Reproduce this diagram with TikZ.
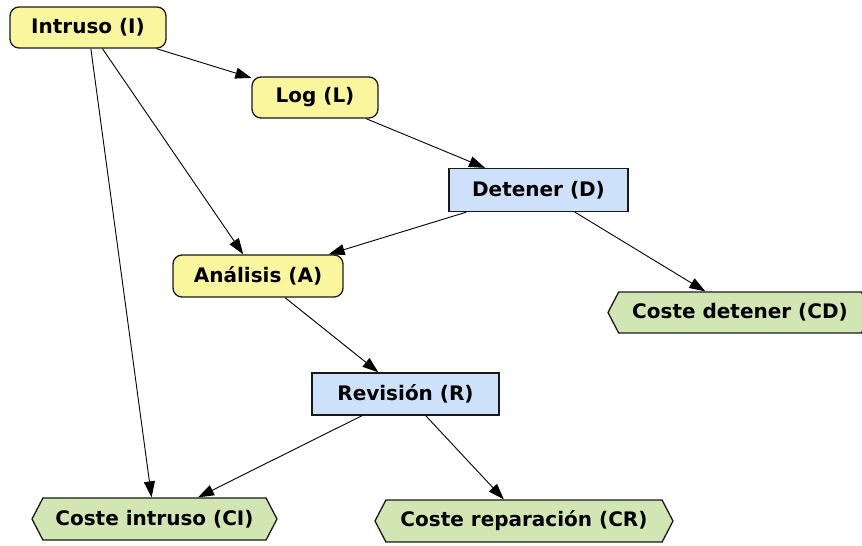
\documentclass[tikz,border=0pt]{standalone}
\usepackage{fontspec}
\setmainfont{DejaVu Sans}
\usetikzlibrary{shapes.symbols,arrows.meta}
\definecolor{chancefill}{RGB}{250,246,158}
\definecolor{decisionfill}{RGB}{206,225,250}
\definecolor{utilityfill}{RGB}{210,230,180}

\begin{document}
\begin{tikzpicture}[x=1pt,y=-1pt,>={Triangle[length=16pt,width=11pt]}]
     \useasboundingbox (0,0) rectangle (862,546);
     \tikzstyle{every node} = [draw=black!90,line width=1.3pt,inner sep=0pt,minimum height=41pt,font=\fontsize{20}{22}\selectfont\bfseries]
     \tikzstyle{chance} = [rectangle,rounded corners=9pt,fill=chancefill]
     \tikzstyle{decision} = [rectangle,fill=decisionfill]
     \tikzstyle{utility} = [signal,signal to=west and east,signal pointer angle=125,fill=utilityfill]
     \node[chance,minimum width=156pt] (I) at (88,27.5) {Intruso (I)};
     \node[chance,minimum width=126pt] (L) at (315,97.5) {Log (L)};
     \node[decision,minimum width=179pt,minimum height=43pt] (D) at (538.5,190) {Detener (D)};
     \node[chance,minimum width=170pt,minimum height=42pt] (A) at (258,276) {Análisis (A)};
     \node[decision,minimum width=187pt,minimum height=42pt] (R) at (405.5,394) {Revisión (R)};
     \node[utility,minimum width=264pt] (CD) at (740,312.5) {Coste detener (CD)};
     \node[utility,minimum width=245pt,minimum height=42pt] (CI) at (154.5,519) {Coste intruso (CI)};
     \node[utility,minimum width=298pt,minimum height=42pt] (CR) at (524,521) {Coste reparación (CR)};
     \draw [->,line width=0.9pt] (I) to (L);
     \draw [->,line width=0.9pt] (I) to (A);
     \draw [->,line width=0.9pt] (I) to (CI);
     \draw [->,line width=0.9pt] (L) to (D);
     \draw [->,line width=0.9pt] (D) to (A);
     \draw [->,line width=0.9pt] (D) to (CD);
     \draw [->,line width=0.9pt] (A) to (R);
     \draw [->,line width=0.9pt] (R) to (CI);
     \draw [->,line width=0.9pt] (R) to (CR);
   \end{tikzpicture}
\end{document}
